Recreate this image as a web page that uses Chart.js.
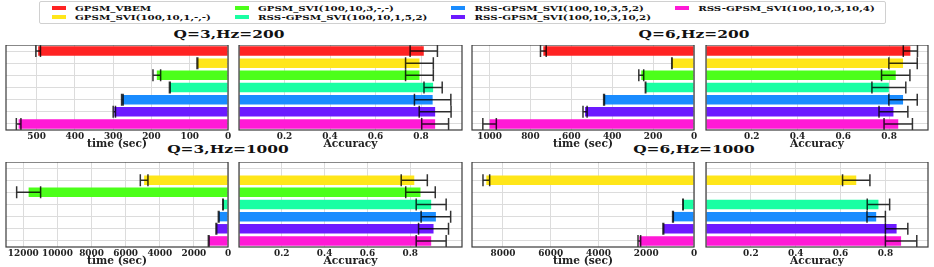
<!DOCTYPE html>
<html>
<head>
<meta charset="utf-8">
<script src="https://cdn.jsdelivr.net/npm/chart.js@4.4.1/dist/chart.umd.min.js"></script>
<style>
  body { margin: 0; background: #fff; width: 934px; height: 267px; position: relative; overflow: hidden;
         font-family: 'DejaVu Serif', serif; font-weight: bold; color: #111; }
  canvas { position: absolute; }
  .title { position: absolute; line-height: 1; transform: translate(-50%, -50%) scaleY(0.72); white-space: nowrap; }
  #legend { position: absolute; left: 39px; top: 1px; border: 1px solid #d0d0d0; border-radius: 2px;
            padding: 1px 10px 1px 12px; display: grid; grid-auto-flow: column;
            grid-template-rows: repeat(2, 9.5px); column-gap: 24px; }
  .item { display: flex; align-items: center; white-space: nowrap; }
  .item span.t { display: inline-block; transform: scaleY(0.75); line-height: 1; }
  .sw { width: 14px; height: 4px; margin-right: 9px; }
</style>
</head>
<body>
<div id="legend"></div>
<div class="title" style="left:229px;top:35px">Q=3,Hz=200</div>
<div class="title" style="left:694px;top:35px">Q=6,Hz=200</div>
<div class="title" style="left:228px;top:150px">Q=3,Hz=1000</div>
<div class="title" style="left:694px;top:150px">Q=6,Hz=1000</div>

<script>
// methods (one bar per row, top to bottom)
const categories = [
  'GPSM_VBEM',
  'GPSM_SVI(100,10,1,-,-)',
  'GPSM_SVI(100,10,3,-,-)',
  'RSS-GPSM_SVI(100,10,1,5,2)',
  'RSS-GPSM_SVI(100,10,3,5,2)',
  'RSS-GPSM_SVI(100,10,3,10,2)',
  'RSS-GPSM_SVI(100,10,3,10,4)'
];
const colors = ['#ff2323', '#ffe61a', '#4cff1a', '#1affa3', '#1a8cff', '#6c1aff', '#ff1ad6'];

// Q=3, Hz=200
const timeQ3Hz200 = [496, 80, 186, 152, 276, 297, 547];
const timeQ3Hz200Err = [6, 1, 10, 1, 2, 3, 6];
const accQ3Hz200 = [0.812, 0.793, 0.793, 0.853, 0.851, 0.862, 0.862];
const accQ3Hz200Err = [0.06, 0.061, 0.061, 0.04, 0.08, 0.07, 0.059];

// Q=6, Hz=200
const timeQ6Hz200 = [737, 108, 258, 237, 440, 533, 1000];
const timeQ6Hz200Err = [14, 1, 12, 1, 2, 10, 33];
const accQ6Hz200 = [0.893, 0.861, 0.829, 0.799, 0.861, 0.819, 0.840];
const accQ6Hz200Err = [0.031, 0.062, 0.062, 0.074, 0.062, 0.063, 0.062];

// Q=3, Hz=1000 (no VBEM run)
const timeQ3Hz1000 = [null, 4917, 11688, 293, 546, 683, 1132];
const timeQ3Hz1000Err = [null, 224, 702, 15, 20, 20, 20];
const accQ3Hz1000 = [null, 0.819, 0.848, 0.898, 0.920, 0.909, 0.898];
const accQ3Hz1000Err = [null, 0.061, 0.069, 0.070, 0.069, 0.070, 0.070];

// Q=6, Hz=1000
const timeQ6Hz1000 = [null, 8695, null, 460, 880, 1284, 2289];
const timeQ6Hz1000Err = [null, 140, null, 10, 15, 15, 55];
const accQ6Hz1000 = [null, 0.67, null, 0.769, 0.759, 0.850, 0.870];
const accQ6Hz1000Err = [null, 0.061, null, 0.05, 0.041, 0.05, 0.07];

// x tick values
const ticksTimeQ3Hz200 = [0, 100, 200, 300, 400, 500];
const ticksTimeQ6Hz200 = [0, 200, 400, 600, 800, 1000];
const ticksTimeQ3Hz1000 = [0, 2000, 4000, 6000, 8000, 10000, 12000];
const ticksTimeQ6Hz1000 = [0, 2000, 4000, 6000, 8000];
const ticksAcc = [0, 0.2, 0.4, 0.6, 0.8];

// pick a font size so a sample string gets the width seen in the reference
const mctx = document.createElement('canvas').getContext('2d');
function fitSize(text, target) {
  mctx.font = 'bold 10px "DejaVu Serif"';
  return 10 * target / mctx.measureText(text).width;
}
const legendSize = fitSize('RSS-GPSM_SVI(100,10,3,10,2)', 177);
const titleSize = fitSize('Q=3,Hz=200', 111);
const tickSize = Math.min(fitSize('12000', 31), 10);
const axisSize = Math.min(fitSize('time (sec)', 60), 11);

document.querySelectorAll('.title').forEach(t => t.style.fontSize = titleSize + 'px');

// legend (shared)
const legend = document.getElementById('legend');
legend.style.fontSize = legendSize + 'px';
categories.forEach((c, i) => {
  const d = document.createElement('div');
  d.className = 'item';
  d.innerHTML = `<span class="sw" style="background:${colors[i]}"></span><span class="t">${c}</span>`;
  legend.appendChild(d);
});

// error bars + dark frame around plot area
const errFrame = {
  id: 'errFrame',
  afterDatasetsDraw(chart) {
    const { ctx, chartArea: a, scales: { x, y } } = chart;
    const ds = chart.data.datasets[0];
    ctx.save();
    ctx.strokeStyle = 'rgba(0,0,0,0.8)';
    ctx.lineWidth = 1.5;
    ds.data.forEach((v, i) => {
      const e = ds.errors[i];
      if (v == null || e == null) return;
      const x1 = x.getPixelForValue(v - e), x2 = x.getPixelForValue(v + e);
      const yy = y.getPixelForValue(i);
      ctx.beginPath();
      ctx.moveTo(x1, yy); ctx.lineTo(x2, yy);
      ctx.moveTo(x1, yy - 6); ctx.lineTo(x1, yy + 6);
      ctx.moveTo(x2, yy - 6); ctx.lineTo(x2, yy + 6);
      ctx.stroke();
    });
    ctx.strokeStyle = '#3a3a3a';
    ctx.lineWidth = 1.2;
    ctx.strokeRect(a.left, a.top, a.width, a.height);
    ctx.restore();
  }
};

const PAD = 16;
function panel(left, top, width, height, values, errs, isTime, max, tickVals) {
  const cv = document.createElement('canvas');
  cv.width = width + 2 * PAD;
  cv.height = height + 20;
  cv.style.left = (left - PAD) + 'px';
  cv.style.top = top + 'px';
  document.body.appendChild(cv);
  new Chart(cv, {
    type: 'bar',
    data: {
      labels: categories,
      datasets: [{
        data: values,
        errors: errs,
        backgroundColor: colors,
        borderWidth: 0,
        barPercentage: 0.78,
        categoryPercentage: 1.0
      }]
    },
    options: {
      indexAxis: 'y',
      responsive: false,
      animation: false,
      devicePixelRatio: 1,
      layout: { padding: { left: PAD, right: PAD, top: 0, bottom: 0 } },
      plugins: { legend: { display: false }, tooltip: { enabled: false } },
      scales: {
        x: {
          type: 'linear',
          reverse: isTime,
          min: 0,
          max: max,
          afterBuildTicks: s => { s.ticks = tickVals.map(v => ({ value: v })); },
          grid: { color: '#dcdcdc', drawTicks: false },
          border: { display: false },
          ticks: {
            autoSkip: false,
            maxRotation: 0,
            minRotation: 0,
            padding: 2,
            color: '#222',
            font: { family: 'DejaVu Serif', weight: 'bold', size: tickSize, lineHeight: 1 },
            callback: v => isTime ? String(v) : (v === 0 ? '' : v.toFixed(1))
          },
          title: {
            display: true,
            text: isTime ? 'time (sec)' : 'Accuracy',
            padding: 0,
            color: '#222',
            font: { family: 'DejaVu Serif', weight: 'bold', size: axisSize, lineHeight: 1 }
          },
          afterFit: s => { s.height = 20; }
        },
        y: {
          offset: true,
          grid: { color: '#dcdcdc', offset: false, drawTicks: false },
          border: { display: false },
          ticks: { display: false },
          afterFit: s => { s.width = 0; }
        }
      }
    },
    plugins: [errFrame]
  });
}

// top row
panel(6, 45, 222, 85, timeQ3Hz200, timeQ3Hz200Err, true, 580, ticksTimeQ3Hz200);
panel(239, 45, 223, 85, accQ3Hz200, accQ3Hz200Err, false, 0.98, ticksAcc);
panel(472, 45, 222, 85, timeQ6Hz200, timeQ6Hz200Err, true, 1086, ticksTimeQ6Hz200);
panel(706, 45, 222, 85, accQ6Hz200, accQ6Hz200Err, false, 0.97, ticksAcc);
// bottom row
panel(6, 162, 222, 85, timeQ3Hz1000, timeQ3Hz1000Err, true, 13015, ticksTimeQ3Hz1000);
panel(239, 162, 223, 85, accQ3Hz1000, accQ3Hz1000Err, false, 1.042, ticksAcc);
panel(472, 162, 222, 85, timeQ6Hz1000, timeQ6Hz1000Err, true, 9295, ticksTimeQ6Hz1000);
panel(706, 162, 222, 85, accQ6Hz1000, accQ6Hz1000Err, false, 0.99, ticksAcc);
</script>
</body>
</html>
